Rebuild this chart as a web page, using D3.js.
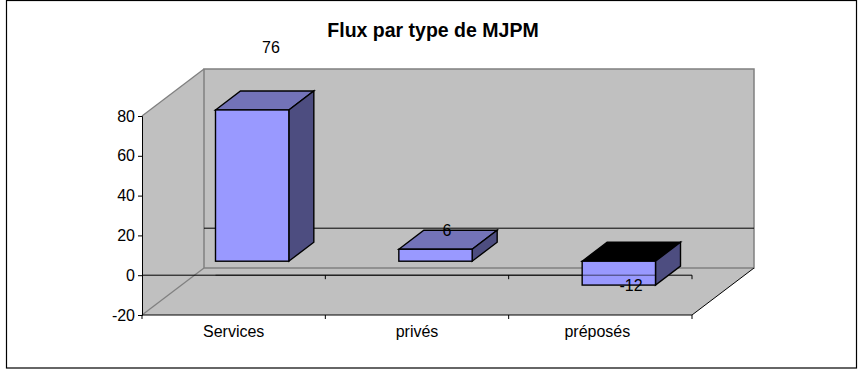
<!DOCTYPE html>
<html>
<head>
<meta charset="utf-8">
<script src="https://cdnjs.cloudflare.com/ajax/libs/d3/7.8.5/d3.min.js"></script>
<style>
html, body { margin: 0; padding: 0; background: #fff; }
text { font-family: "Liberation Sans", Arial, sans-serif; fill: #000; }
</style>
</head>
<body>
<script>
var categories = ["Services", "privés", "préposés"];
var values = [76, 6, -12];
var yTicks = [-20, 0, 20, 40, 60, 80];
var title = "Flux par type de MJPM";

var width = 858;
var height = 371;

// oblique offset of the whole 3D box, and of one bar
var wallDx = 62, wallDy = -47;
var barOffX = 18.5, barOffY = -14;
var barDx = 25, barDy = -19;

var svg = d3.select("body")
  .append("svg")
  .attr("width", width)
  .attr("height", height)
  .style("display", "block");

var x = d3.scaleBand()
  .domain(categories)
  .range([142, 692])
  .paddingInner(0.6)
  .paddingOuter(0.3);

var y = d3.scaleLinear()
  .domain([-20, 80])
  .range([315, 116]);

var step = x.step();
var left = x.range()[0], right = x.range()[1];
var yTop = y(80), yBottom = y(-20), yZero = y(0);

function poly(points) {
  return points.map(function(p) { return p.join(","); }).join(" ");
}

// chart frame
svg.append("rect")
  .attr("x", 6.5).attr("y", 0.5)
  .attr("width", 850).attr("height", 367.5)
  .attr("fill", "#fff")
  .attr("stroke", "#000")
  .attr("stroke-width", 1.2);

// left wall
svg.append("polygon")
  .attr("points", poly([[left, yTop], [left + wallDx, yTop + wallDy], [left + wallDx, yBottom + wallDy], [left, yBottom]]))
  .attr("fill", "#c0c0c0");

// floor
svg.append("polygon")
  .attr("points", poly([[left, yBottom], [left + wallDx, yBottom + wallDy], [right + wallDx, yBottom + wallDy], [right, yBottom]]))
  .attr("fill", "#c0c0c0");

// back wall
svg.append("rect")
  .attr("x", left + wallDx).attr("y", yTop + wallDy)
  .attr("width", right - left).attr("height", yBottom - yTop)
  .attr("fill", "#c0c0c0")
  .attr("stroke", "#808080")
  .attr("stroke-width", 1.5);

// grey edges of the left wall and floor
svg.append("polyline")
  .attr("points", poly([[left, yTop], [left + wallDx, yTop + wallDy]]))
  .attr("fill", "none").attr("stroke", "#808080").attr("stroke-width", 1.3);
svg.append("polyline")
  .attr("points", poly([[left, yBottom], [left + wallDx, yBottom + wallDy]]))
  .attr("fill", "none").attr("stroke", "#808080").attr("stroke-width", 1.3);
svg.append("polyline")
  .attr("points", poly([[right, yBottom], [right + wallDx, yBottom + wallDy]]))
  .attr("fill", "none").attr("stroke", "#000");

// zero plane lines
svg.append("line")
  .attr("x1", left + wallDx).attr("x2", right + wallDx)
  .attr("y1", yZero + wallDy).attr("y2", yZero + wallDy)
  .attr("stroke", "#000");
svg.append("line")
  .attr("x1", left).attr("x2", right)
  .attr("y1", yZero).attr("y2", yZero)
  .attr("stroke", "#000");

// y axis, plain hyphen for the negative tick
var yAxis = d3.axisLeft(y)
  .tickValues(yTicks)
  .tickFormat(function(d) { return String(d); })
  .tickSize(4)
  .tickPadding(3);
var yG = svg.append("g")
  .attr("transform", "translate(" + left + ",0)")
  .call(yAxis);
yG.select(".domain").attr("stroke", "#000");
yG.selectAll("text")
  .style("font-family", '"Liberation Sans", Arial, sans-serif')
  .style("font-size", "16px");

// x axis, ticks sit between the categories
var xG = svg.append("g")
  .attr("transform", "translate(0," + yBottom + ")")
  .call(d3.axisBottom(x).tickSize(0).tickPadding(11));
xG.select(".domain").attr("d", "M" + left + ",0H" + right);
xG.selectAll("text")
  .attr("dx", function(d, i) { return i == 2 ? -3 : 0; })
  .style("font-family", '"Liberation Sans", Arial, sans-serif')
  .style("font-size", "16px");

d3.range(categories.length + 1).forEach(function(i) {
  var tx = left + i * step;
  svg.append("line")
    .attr("x1", tx).attr("x2", tx)
    .attr("y1", yBottom).attr("y2", yBottom + 4)
    .attr("stroke", "#000");
  if (i > 0) {
    svg.append("line")
      .attr("x1", tx).attr("x2", tx)
      .attr("y1", yZero).attr("y2", yZero + 4)
      .attr("stroke", "#000");
  }
});

// bars
var bars = svg.selectAll(".bar")
  .data(values)
  .enter()
  .append("g")
  .attr("class", "bar");

function barX(d, i) { return x(categories[i]) + barOffX; }
function barTop(d) { return y(Math.max(d, 0)) + barOffY; }
function barBottom(d) { return y(Math.min(d, 0)) + barOffY; }

bars.append("polygon") // top face, black when the value is negative
  .attr("points", function(d, i) {
    var x0 = barX(d, i), x1 = x0 + x.bandwidth(), t = barTop(d);
    return poly([[x0, t], [x0 + barDx, t + barDy], [x1 + barDx, t + barDy], [x1, t]]);
  })
  .attr("fill", function(d) { return d < 0 ? "#000" : "#7373b8"; })
  .attr("stroke", "#000")
  .attr("stroke-width", 1.4);

bars.append("polygon") // side face
  .attr("points", function(d, i) {
    var x1 = barX(d, i) + x.bandwidth(), t = barTop(d), b = barBottom(d);
    return poly([[x1, t], [x1 + barDx, t + barDy], [x1 + barDx, b + barDy], [x1, b]]);
  })
  .attr("fill", "#4d4d80")
  .attr("stroke", "#000")
  .attr("stroke-width", 1.4);

bars.append("rect") // front face
  .attr("x", barX)
  .attr("y", barTop)
  .attr("width", x.bandwidth())
  .attr("height", function(d) { return barBottom(d) - barTop(d); })
  .attr("fill", "#9999ff")
  .attr("stroke", "#000")
  .attr("stroke-width", 1.4);

// the zero line still shows through a bar that goes below it
bars.append("line")
  .filter(function(d) { return d < 0; })
  .attr("x1", barX)
  .attr("x2", function(d, i) { return barX(d, 2) + x.bandwidth(); })
  .attr("y1", yZero)
  .attr("y2", yZero)
  .attr("stroke", "#000")
  .attr("stroke-opacity", 0.6);

// value labels
var labelX = [271, 447, 631];
var labelY = [53, 236, 291];
svg.selectAll(".value")
  .data(values)
  .enter()
  .append("text")
  .attr("class", "value")
  .attr("x", function(d, i) { return labelX[i]; })
  .attr("y", function(d, i) { return labelY[i]; })
  .attr("text-anchor", "middle")
  .style("font-size", "16px")
  .text(function(d) { return d; });

// title
svg.append("text")
  .attr("x", 433)
  .attr("y", 37)
  .attr("text-anchor", "middle")
  .style("font-size", "19.5px")
  .style("font-weight", "bold")
  .text(title);
</script>
</body>
</html>
